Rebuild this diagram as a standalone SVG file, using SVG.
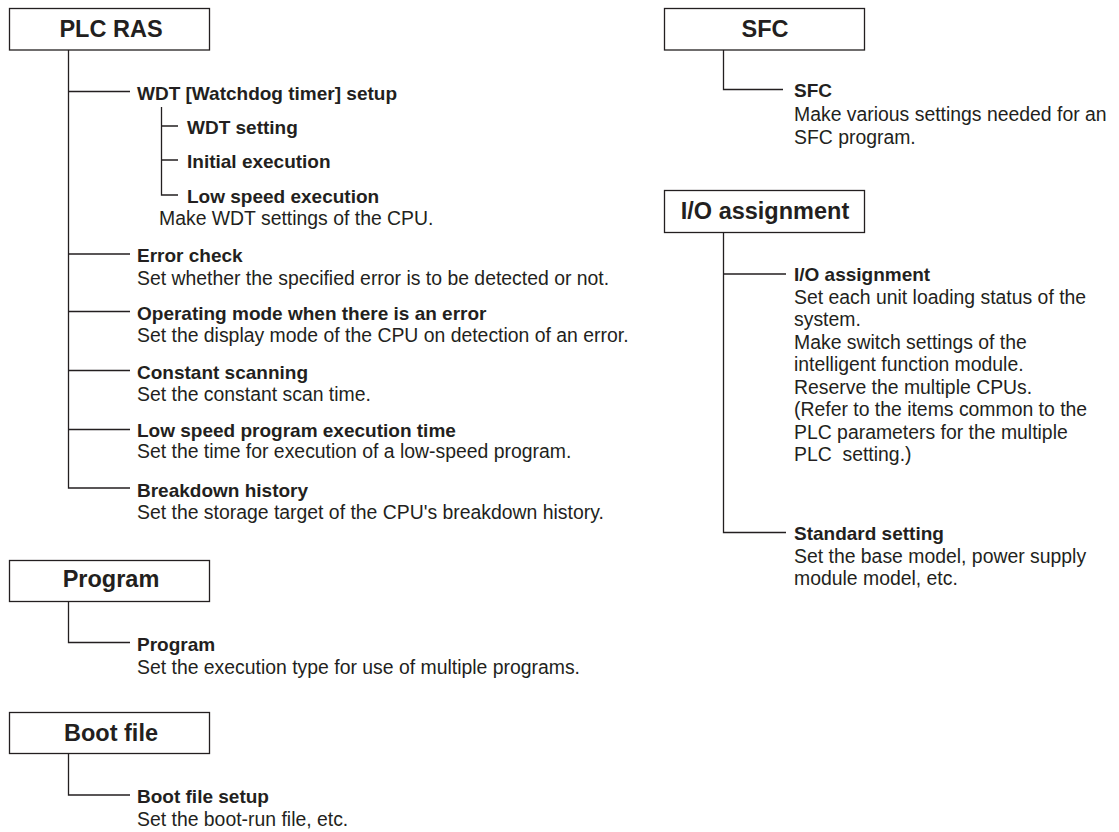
<svg xmlns="http://www.w3.org/2000/svg" width="1119" height="832" viewBox="0 0 1119 832">
  <style>
    .box { fill: #ffffff; stroke: #231f20; stroke-width: 1.3; }
    .title { font-family: "Liberation Sans", Arial, sans-serif; font-weight: bold; font-size: 23.5px; fill: #231f20; text-anchor: middle; }
    .item { font-family: "Liberation Sans", Arial, sans-serif; font-weight: bold; font-size: 19px; fill: #231f20; }
    .desc { font-family: "Liberation Sans", Arial, sans-serif; font-size: 19.4px; fill: #231f20; }
    .wire { fill: none; stroke: #231f20; stroke-width: 1.3; }
  </style>
  <rect width="1119" height="832" fill="#ffffff"/>

  <!-- tree connectors -->
  <g id="connectors">
    <!-- PLC RAS trunk and branches -->
    <path class="wire" d="M68.5,50 V488 H130"/>
    <path class="wire" d="M68.5,91.5 H130 M68.5,254 H130 M68.5,311.5 H130 M68.5,370.5 H130 M68.5,429.5 H130"/>
    <!-- WDT sub-branches -->
    <path class="wire" d="M161.5,107 V195 H178 M161.5,126 H178 M161.5,160 H178"/>
    <!-- Program -->
    <path class="wire" d="M68.5,601.5 V642.5 H130"/>
    <!-- Boot file -->
    <path class="wire" d="M68.5,753.5 V795 H130"/>
    <!-- SFC -->
    <path class="wire" d="M723.5,50 V89.5 H783"/>
    <!-- I/O assignment -->
    <path class="wire" d="M723.5,232.5 V532.5 H786 M723.5,274 H786"/>
  </g>

  <!-- PLC RAS -->
  <g id="plc-ras">
    <rect class="box" x="9.5" y="8.5" width="200" height="41.5"/>
    <text class="title" x="111" y="37">PLC RAS</text>
  </g>
  <g id="wdt-setup">
    <text class="item" x="137" y="100">WDT [Watchdog timer] setup</text>
  </g>
  <g id="wdt-setting">
    <text class="item" x="187" y="133.5">WDT setting</text>
  </g>
  <g id="initial-execution">
    <text class="item" x="187" y="167.5">Initial execution</text>
  </g>
  <g id="low-speed-execution">
    <text class="item" x="187" y="202.5">Low speed execution</text>
    <text class="desc" x="159" y="225">Make WDT settings of the CPU.</text>
  </g>
  <g id="error-check">
    <text class="item" x="137" y="262">Error check</text>
    <text class="desc" x="137" y="285">Set whether the specified error is to be detected or not.</text>
  </g>
  <g id="operating-mode">
    <text class="item" x="137" y="319.5">Operating mode when there is an error</text>
    <text class="desc" x="137" y="341.5">Set the display mode of the CPU on detection of an error.</text>
  </g>
  <g id="constant-scanning">
    <text class="item" x="137" y="378.5">Constant scanning</text>
    <text class="desc" x="137" y="400.5">Set the constant scan time.</text>
  </g>
  <g id="low-speed-program">
    <text class="item" x="137" y="436.5">Low speed program execution time</text>
    <text class="desc" x="137" y="457.5">Set the time for execution of a low-speed program.</text>
  </g>
  <g id="breakdown-history">
    <text class="item" x="137" y="496.5">Breakdown history</text>
    <text class="desc" x="137" y="518.5">Set the storage target of the CPU's breakdown history.</text>
  </g>

  <!-- Program -->
  <g id="program">
    <rect class="box" x="9.5" y="560.5" width="200" height="41"/>
    <text class="title" x="111" y="587">Program</text>
  </g>
  <g id="program-item">
    <text class="item" x="137" y="651">Program</text>
    <text class="desc" x="137" y="673.5">Set the execution type for use of multiple programs.</text>
  </g>

  <!-- Boot file -->
  <g id="boot-file">
    <rect class="box" x="9.5" y="712.5" width="200" height="41"/>
    <text class="title" x="111" y="741">Boot file</text>
  </g>
  <g id="boot-file-setup">
    <text class="item" x="137" y="803">Boot file setup</text>
    <text class="desc" x="137" y="825.5">Set the boot-run file, etc.</text>
  </g>

  <!-- SFC -->
  <g id="sfc">
    <rect class="box" x="664.5" y="8.5" width="200" height="41.5"/>
    <text class="title" x="765" y="36.5">SFC</text>
  </g>
  <g id="sfc-item">
    <text class="item" x="794" y="97">SFC</text>
    <text class="desc" x="794" y="121">Make various settings needed for an</text>
    <text class="desc" x="794" y="143.5">SFC program.</text>
  </g>

  <!-- I/O assignment -->
  <g id="io-assignment">
    <rect class="box" x="664.5" y="190.5" width="200" height="42"/>
    <text class="title" x="765" y="219">I/O assignment</text>
  </g>
  <g id="io-assignment-item">
    <text class="item" x="794" y="281">I/O assignment</text>
    <text class="desc" x="794" y="303.5">Set each unit loading status of the</text>
    <text class="desc" x="794" y="326">system.</text>
    <text class="desc" x="794" y="348.5">Make switch settings of the</text>
    <text class="desc" x="794" y="371">intelligent function module.</text>
    <text class="desc" x="794" y="393.5">Reserve the multiple CPUs.</text>
    <text class="desc" x="794" y="416">(Refer to the items common to the</text>
    <text class="desc" x="794" y="438.5">PLC parameters for the multiple</text>
    <text class="desc" x="794" y="461" xml:space="preserve">PLC  setting.)</text>
  </g>
  <g id="standard-setting">
    <text class="item" x="794" y="540">Standard setting</text>
    <text class="desc" x="794" y="562.5">Set the base model, power supply</text>
    <text class="desc" x="794" y="585">module model, etc.</text>
  </g>
</svg>
